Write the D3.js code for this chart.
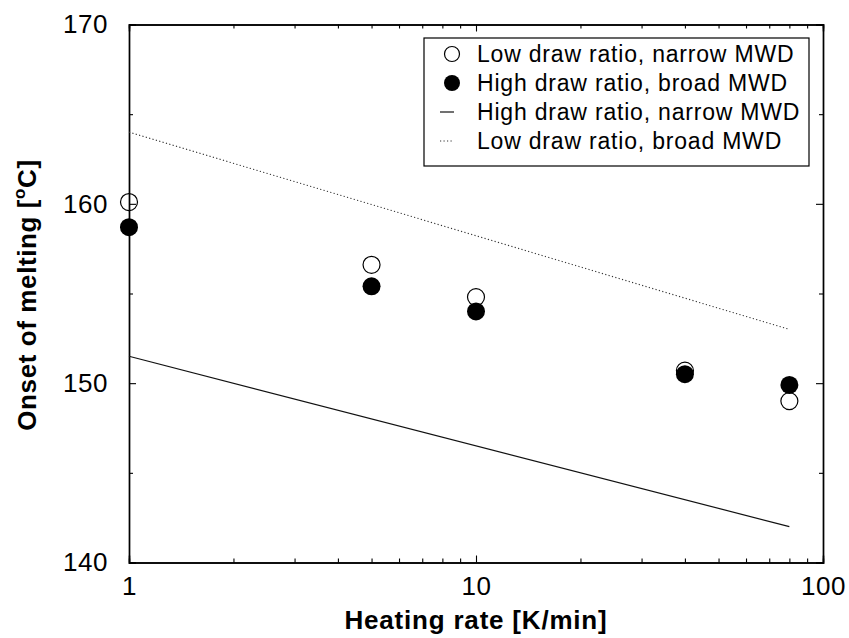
<!DOCTYPE html>
<html>
<head>
<meta charset="utf-8">
<script src="https://cdn.jsdelivr.net/npm/d3@7"></script>
<style>
  body { margin: 0; background: #fff; }
  svg { font-family: "Liberation Sans", Arial, sans-serif; }
</style>
</head>
<body>
<svg id="chart" width="849" height="638"></svg>
<script>
// heating rates [K/min]
var rates = [1, 5, 10, 40, 80];
// onset of melting [°C]
var lowNarrow = [160.1, 156.6, 154.8, 150.7, 149.0];
var highBroad = [158.7, 155.4, 154.0, 150.5, 149.9];
// fitted lines
var lineRates = [1, 80];
var highNarrowLine = [151.5, 142.0];
var lowBroadLine = [164.0, 153.0];

var xTicks = [1, 10, 100];
var yTicks = [140, 150, 160, 170];
var yMinor = [145, 155, 165];

var legendLabels = [
    'Low draw ratio, narrow MWD',
    'High draw ratio, broad MWD',
    'High draw ratio, narrow MWD',
    'Low draw ratio, broad MWD'
];

var svg = d3.select('#chart');
// note: "top" is reserved by window, so use plot* names
var plotLeft = 129, plotRight = 823, plotTop = 24.5, plotBottom = 562.5;

var x = d3.scaleLog().domain([1, 100]).range([plotLeft, plotRight]);
var y = d3.scaleLinear().domain([140, 170]).range([plotBottom, plotTop]);

// minor ticks of the log axis (2..9, 20..90)
var xMinor = x.ticks().filter(function (d) { return xTicks.indexOf(d) < 0; });

function styleAxis(g) {
    g.select('.domain').attr('stroke', '#000').attr('stroke-width', 1.4);
    g.selectAll('.tick line').attr('stroke', '#000').attr('stroke-width', 1.1);
    g.selectAll('.tick text')
        .attr('fill', '#000')
        .style('font-size', '26px')
        .style('letter-spacing', '0.5px');
}

// bottom axis
svg.append('g').attr('transform', 'translate(0,' + plotBottom + ')')
    .call(d3.axisBottom(x).tickValues(xTicks).tickSize(-7).tickPadding(14).tickFormat(d3.format('d')))
    .call(styleAxis);
svg.append('g').attr('transform', 'translate(0,' + plotBottom + ')')
    .call(d3.axisBottom(x).tickValues(xMinor).tickSize(-4).tickFormat(''))
    .call(styleAxis);
// top axis (mirror)
svg.append('g').attr('transform', 'translate(0,' + plotTop + ')')
    .call(d3.axisTop(x).tickValues(xTicks).tickSize(-7).tickFormat(''))
    .call(styleAxis);
svg.append('g').attr('transform', 'translate(0,' + plotTop + ')')
    .call(d3.axisTop(x).tickValues(xMinor).tickSize(-4).tickFormat(''))
    .call(styleAxis);
// left axis
svg.append('g').attr('transform', 'translate(' + plotLeft + ',0)')
    .call(d3.axisLeft(y).tickValues(yTicks).tickSize(-7).tickPadding(21).tickFormat(d3.format('d')))
    .call(styleAxis);
svg.append('g').attr('transform', 'translate(' + plotLeft + ',0)')
    .call(d3.axisLeft(y).tickValues(yMinor).tickSize(-4).tickFormat(''))
    .call(styleAxis);
// right axis (mirror)
svg.append('g').attr('transform', 'translate(' + plotRight + ',0)')
    .call(d3.axisRight(y).tickValues(yTicks).tickSize(-7).tickFormat(''))
    .call(styleAxis);
svg.append('g').attr('transform', 'translate(' + plotRight + ',0)')
    .call(d3.axisRight(y).tickValues(yMinor).tickSize(-4).tickFormat(''))
    .call(styleAxis);

// axis titles
svg.append('text')
    .attr('x', (plotLeft + plotRight) / 2)
    .attr('y', 629)
    .attr('text-anchor', 'middle')
    .style('font-size', '26px')
    .style('font-weight', 'bold')
    .style('letter-spacing', '0.8px')
    .text('Heating rate [K/min]');

var yTitle = svg.append('text')
    .attr('transform', 'translate(36,295) rotate(-90)')
    .attr('text-anchor', 'middle')
    .style('font-size', '26px')
    .style('font-weight', 'bold')
    .style('letter-spacing', '0.6px');
yTitle.append('tspan').text('Onset of melting [');
yTitle.append('tspan').attr('dy', -11).style('font-size', '17px').text('o');
yTitle.append('tspan').attr('dy', 11).text('C]');

// fitted lines
var line = d3.line()
    .x(function (d) { return x(d[0]); })
    .y(function (d) { return y(d[1]); });

svg.append('path')
    .datum(d3.zip(lineRates, highNarrowLine))
    .attr('d', line)
    .attr('fill', 'none')
    .attr('stroke', '#111')
    .attr('stroke-width', 1.2);

svg.append('path')
    .datum(d3.zip(lineRates, lowBroadLine))
    .attr('d', line)
    .attr('fill', 'none')
    .attr('stroke', '#333')
    .attr('stroke-width', 1.1)
    .attr('stroke-dasharray', '1.2,2.3');

// data points
svg.selectAll('.open')
    .data(d3.zip(rates, lowNarrow))
    .enter().append('circle')
    .attr('class', 'open')
    .attr('cx', function (d) { return x(d[0]); })
    .attr('cy', function (d) { return y(d[1]); })
    .attr('r', 8.5)
    .attr('fill', 'none')
    .attr('stroke', '#000')
    .attr('stroke-width', 1.2);

svg.selectAll('.filled')
    .data(d3.zip(rates, highBroad))
    .enter().append('circle')
    .attr('class', 'filled')
    .attr('cx', function (d) { return x(d[0]); })
    .attr('cy', function (d) { return y(d[1]); })
    .attr('r', 9)
    .attr('fill', '#000');

// legend
var legend = svg.append('g');
legend.append('rect')
    .attr('x', 424).attr('y', 38)
    .attr('width', 385).attr('height', 128)
    .attr('fill', '#fff')
    .attr('stroke', '#000')
    .attr('stroke-width', 1.2);

var rowY = function (i) { return 54 + i * 29; };

legend.append('circle').attr('cx', 452).attr('cy', rowY(0)).attr('r', 7.5)
    .attr('fill', 'none').attr('stroke', '#000').attr('stroke-width', 1.2);
legend.append('circle').attr('cx', 452).attr('cy', rowY(1)).attr('r', 8)
    .attr('fill', '#000');
legend.append('line').attr('x1', 440).attr('x2', 454).attr('y1', rowY(2)).attr('y2', rowY(2))
    .attr('stroke', '#111').attr('stroke-width', 1.2);
legend.append('line').attr('x1', 440).attr('x2', 454).attr('y1', rowY(3)).attr('y2', rowY(3))
    .attr('stroke', '#333').attr('stroke-width', 1.1).attr('stroke-dasharray', '1.2,2.3');

legend.selectAll('.label')
    .data(legendLabels)
    .enter().append('text')
    .attr('class', 'label')
    .attr('x', 477)
    .attr('y', function (d, i) { return rowY(i) + 8; })
    .style('font-size', '23px')
    .style('letter-spacing', '0.8px')
    .text(function (d) { return d; });
</script>
</body>
</html>
